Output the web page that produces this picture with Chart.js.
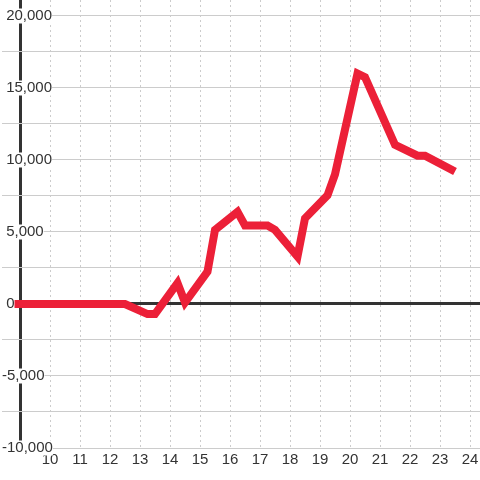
<!DOCTYPE html>
<html>
<head>
<meta charset="utf-8">
<script src="https://cdn.jsdelivr.net/npm/chart.js@4/dist/chart.umd.min.js"></script>
<style>
  html, body { margin: 0; padding: 0; background: #fff; }
  #wrap { width: 480px; height: 480px; }
</style>
</head>
<body>
<div id="wrap"><canvas id="chart" width="480" height="480"></canvas></div>
<script>
// hour of day -> running value
const hours = [8.5, 12.5, 13.25, 13.5, 14.25, 14.5, 15.25, 15.5, 16.25, 16.5, 17.25, 17.5,
               18.25, 18.5, 19.25, 19.5, 20.25, 20.5, 21.5, 22.25, 22.5, 23.5];
const values = [0, 0, -700, -700, 1450, 100, 2250, 5150, 6400, 5450, 5450, 5150,
                3300, 5950, 7550, 9000, 16000, 15750, 11050, 10300, 10300, 9200];

// y grid lines (labels only on the 5,000 steps)
const yTicks = [-10000, -7500, -5000, -2500, 0, 2500, 5000, 7500, 10000, 12500, 15000, 17500, 20000];

// axis ranges
const xMin = 8.4, xMax = 24.3333;
const yMin = -10000, yMax = 21111;
const yAxisAt = 9;

const ctx = document.getElementById("chart").getContext("2d");

const fmt = v => (v < 0 ? "" : " ") + v.toLocaleString("en-US");

new Chart(ctx, {
  type: "line",
  data: {
    datasets: [{
      data: hours.map((h, i) => ({ x: h, y: values[i] })),
      borderColor: "rgb(236,32,56)",
      borderWidth: 8,
      pointRadius: 0,
      tension: 0,
      fill: false
    }]
  },
  options: {
    responsive: false,
    animation: false,
    layout: { padding: { left: 2, top: 0, right: 0, bottom: 7.5 } },
    plugins: { legend: { display: false }, tooltip: { enabled: false } },
    scales: {
      x: {
        type: "linear",
        min: xMin,
        max: xMax,
        border: { display: false, dash: c => (c.tick && c.tick.value === yAxisAt) ? [] : [2, 3] },
        grid: {
          drawTicks: false,
          color: c => c.tick.value === yAxisAt ? "#333" : "#ccc",
          lineWidth: c => c.tick.value === yAxisAt ? 3 : 1
        },
        ticks: {
          stepSize: 1,
          includeBounds: false,
          maxRotation: 0,
          autoSkip: false,
          padding: 1,
          color: "#333",
          font: { family: "Liberation Sans", size: 15, lineHeight: 1.5 },
          callback: v => v === yAxisAt ? "" : String(v)
        }
      },
      y: {
        min: yMin,
        max: yMax,
        border: { display: false },
        grid: {
          drawTicks: false,
          color: c => c.tick.value === 0 ? "#333" : "#ccc",
          lineWidth: c => c.tick.value === 0 ? 3 : 1
        },
        ticks: {
          autoSkip: false,
          mirror: true,
          padding: 0,
          z: 1,
          color: "#333",
          font: { family: "Liberation Sans", size: 15, lineHeight: 1 },
          showLabelBackdrop: c => c.tick.value % 5000 === 0,
          backdropColor: "#fff",
          backdropPadding: c => ({ top: c.tick.value === 20000 ? 20 : 0, bottom: 0, left: 2, right: 2 }),
          callback: v => v % 5000 === 0 ? fmt(v) : ""
        },
        afterBuildTicks: s => { s.ticks = yTicks.map(v => ({ value: v })); },
        afterFit: s => { s.paddingTop = 0; }
      }
    }
  }
});
</script>
</body>
</html>
